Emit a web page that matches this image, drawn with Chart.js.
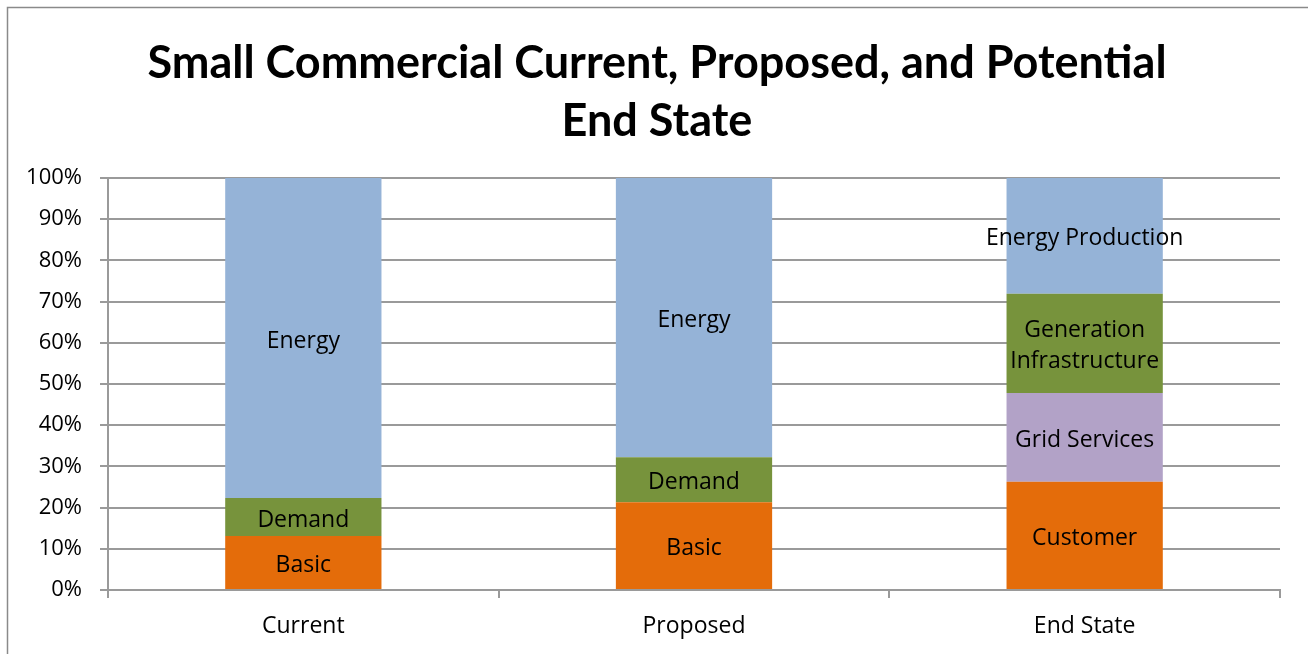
<!DOCTYPE html>
<html>
<head>
<meta charset="utf-8">
<script src="https://cdn.jsdelivr.net/npm/chart.js@4/dist/chart.umd.min.js"></script>
<style>
  html, body { margin: 0; padding: 0; background: #ffffff; }
  #wrap { width: 1308px; height: 654px; position: relative; }
</style>
</head>
<body>
<div id="wrap"><canvas id="chart" width="1308" height="654"></canvas></div>
<script>
// Rate components as a share of the total bill (%)
const categories = ['Current', 'Proposed', 'End State'];
const basicCustomer = [13.1, 21.3, 26.3];
const gridServices = [null, null, 21.5];
const demandGeneration = [9.2, 10.9, 24.1];
const energy = [77.7, 67.8, 28.1];

// Text shown inside each segment
const basicCustomerLabels = ['Basic', 'Basic', 'Customer'];
const gridServicesLabels = ['', '', 'Grid Services'];
const demandGenerationLabels = ['Demand', 'Demand', ['Generation', 'Infrastructure']];
const energyLabels = ['Energy', 'Energy', 'Energy Production'];

const yTickValues = [0, 10, 20, 30, 40, 50, 60, 70, 80, 90, 100];
const titleLines = ['Small Commercial Current, Proposed, and Potential', 'End State'];

const GRID = '#9a9a9a';
const BODY_FONT = "'Open Sans', 'DejaVu Sans', sans-serif";
const TITLE_FONT = "bold 45px Lato, 'Open Sans', sans-serif";

// Segment captions, centred in each stacked piece
const segmentLabels = {
  id: 'segmentLabels',
  afterDatasetsDraw(chart) {
    const ctx = chart.ctx;
    ctx.save();
    ctx.font = '23px ' + BODY_FONT;
    ctx.fillStyle = '#000000';
    ctx.textAlign = 'center';
    ctx.textBaseline = 'middle';
    chart.data.datasets.forEach((ds, di) => {
      const meta = chart.getDatasetMeta(di);
      meta.data.forEach((bar, i) => {
        const v = ds.data[i];
        if (v === null || v === undefined) return;
        const text = ds.captions[i];
        if (!text) return;
        const lines = Array.isArray(text) ? text : [text];
        const cy = (bar.y + bar.base) / 2 + 3;
        const lh = 31;
        const start = cy - (lines.length - 1) * lh / 2;
        lines.forEach((ln, k) => ctx.fillText(ln, bar.x, start + k * lh));
      });
    });
    ctx.restore();
  }
};

// Outer frame and the two-line heading
const frameAndTitle = {
  id: 'frameAndTitle',
  beforeDraw(chart) {
    const ctx = chart.ctx;
    ctx.save();
    ctx.fillStyle = '#ffffff';
    ctx.fillRect(0, 0, chart.width, chart.height);
    ctx.strokeStyle = '#8a8a8a';
    ctx.lineWidth = 1.5;
    ctx.strokeRect(7.5, 7.5, chart.width + 20, chart.height + 20);
    ctx.restore();
  },
  afterDraw(chart) {
    const ctx = chart.ctx;
    ctx.save();
    ctx.font = TITLE_FONT;
    ctx.fillStyle = '#000000';
    ctx.textAlign = 'center';
    ctx.textBaseline = 'middle';
    titleLines.forEach((t, k) => ctx.fillText(t, 657, 63 + k * 58));
    ctx.restore();
  }
};

new Chart(document.getElementById('chart'), {
  type: 'bar',
  data: {
    labels: categories,
    datasets: [
      { label: 'Basic / Customer', data: basicCustomer, captions: basicCustomerLabels, backgroundColor: '#E46C0A' },
      { label: 'Grid Services', data: gridServices, captions: gridServicesLabels, backgroundColor: '#B2A2C7' },
      { label: 'Demand / Generation Infrastructure', data: demandGeneration, captions: demandGenerationLabels, backgroundColor: '#77933C' },
      { label: 'Energy', data: energy, captions: energyLabels, backgroundColor: '#95B3D7' }
    ]
  },
  options: {
    responsive: false,
    animation: false,
    devicePixelRatio: 1,
    layout: { padding: { left: 0, right: 28, top: 178, bottom: 0 } },
    datasets: {
      bar: { categoryPercentage: 1.0, barPercentage: 0.4, borderWidth: 0 }
    },
    plugins: {
      legend: { display: false },
      tooltip: { enabled: false },
      title: { display: false }
    },
    scales: {
      x: {
        stacked: true,
        grid: { display: true, drawOnChartArea: false, drawTicks: true, tickLength: 8, color: GRID, lineWidth: 2, offset: true },
        border: { display: true, color: GRID, width: 2 },
        ticks: { color: '#000000', font: { family: BODY_FONT, size: 23 }, padding: 15 },
        afterFit(scale) { scale.height = 64; }
      },
      y: {
        stacked: true,
        min: 0,
        max: 100,
        afterBuildTicks(scale) { scale.ticks = yTickValues.map(v => ({ value: v })); },
        grid: { display: true, drawOnChartArea: true, drawTicks: true, tickLength: 8, color: GRID, lineWidth: 2 },
        border: { display: true, color: GRID, width: 2 },
        ticks: {
          color: '#000000',
          font: { family: BODY_FONT, size: 22 },
          padding: 18,
          callback: v => v + '%'
        },
        afterFit(scale) { scale.width = 108; }
      }
    }
  },
  plugins: [frameAndTitle, segmentLabels]
});
</script>
</body>
</html>
